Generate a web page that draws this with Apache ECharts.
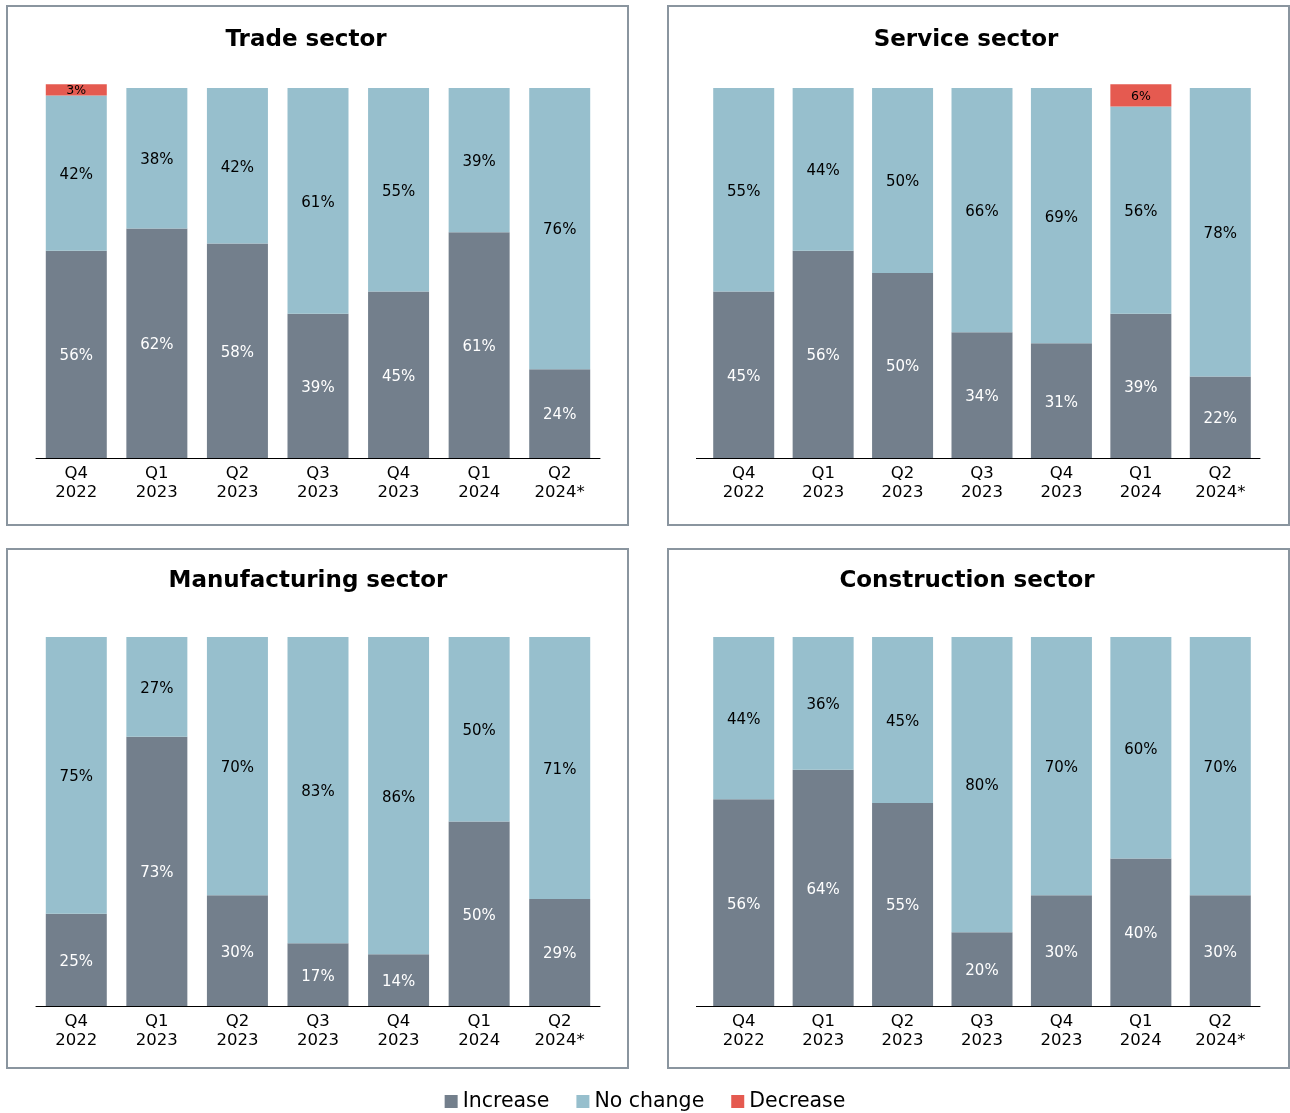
<!DOCTYPE html>
<html>
<head>
<meta charset="utf-8">
<script src="https://cdn.jsdelivr.net/npm/echarts@6/dist/echarts.min.js"></script>
<style>
  html, body { margin: 0; padding: 0; background: #fff; }
  #chart { width: 1290px; height: 1113px; }
</style>
</head>
<body>
<div id="chart"></div>
<script>
var quarters = ['Q4\n2022', 'Q1\n2023', 'Q2\n2023', 'Q3\n2023', 'Q4\n2023', 'Q1\n2024', 'Q2\n2024*'];

var sectorNames = ['Trade sector', 'Service sector', 'Manufacturing sector', 'Construction sector'];

// Trade sector
var tradeIncrease = [56, 62, 58, 39, 45, 61, 24];
var tradeNoChange = [42, 38, 42, 61, 55, 39, 76];
var tradeDecrease = [3, 0, 0, 0, 0, 0, 0];

// Service sector
var serviceIncrease = [45, 56, 50, 34, 31, 39, 22];
var serviceNoChange = [55, 44, 50, 66, 69, 56, 78];
var serviceDecrease = [0, 0, 0, 0, 0, 6, 0];

// Manufacturing sector
var manufIncrease = [25, 73, 30, 17, 14, 50, 29];
var manufNoChange = [75, 27, 70, 83, 86, 50, 71];
var manufDecrease = [0, 0, 0, 0, 0, 0, 0];

// Construction sector
var constrIncrease = [56, 64, 55, 20, 30, 40, 30];
var constrNoChange = [44, 36, 45, 80, 70, 60, 70];
var constrDecrease = [0, 0, 0, 0, 0, 0, 0];

var colors = { inc: '#737f8c', nc: '#97bfcd', dec: '#e55a50' };
var FONT = 'DejaVu Sans';

var panels = [
  { inc: tradeIncrease, nc: tradeNoChange, dec: tradeDecrease, grid: { left: 36, top: 88, width: 564, height: 370 }, box: [7, 6], titleX: 306, titleY: 29 },
  { inc: serviceIncrease, nc: serviceNoChange, dec: serviceDecrease, grid: { left: 704, top: 88, width: 556, height: 370 }, box: [668, 6], titleX: 966, titleY: 29 },
  { inc: manufIncrease, nc: manufNoChange, dec: manufDecrease, grid: { left: 36, top: 637, width: 564, height: 369 }, box: [7, 549], titleX: 308, titleY: 570 },
  { inc: constrIncrease, nc: constrNoChange, dec: constrDecrease, grid: { left: 704, top: 637, width: 556, height: 369 }, box: [668, 549], titleX: 967, titleY: 570 }
];

function pct(p) {
  return p.value ? p.value + '%' : '';
}

var grids = [], xAxes = [], yAxes = [], series = [], titles = [], graphics = [];

panels.forEach(function (pn, i) {
  grids.push(pn.grid);
  xAxes.push({
    type: 'category',
    gridIndex: i,
    data: quarters,
    axisTick: { show: false },
    axisLine: { lineStyle: { color: '#000', width: 1 } },
    axisLabel: { color: '#000', fontSize: 16.5, lineHeight: 19, margin: 6, fontFamily: FONT }
  });
  yAxes.push({
    type: 'value',
    gridIndex: i,
    min: 0,
    max: 100,
    show: false,
    splitLine: { show: false }
  });
  var stack = 's' + i;
  series.push({
    name: 'Increase', type: 'bar', stack: stack, xAxisIndex: i, yAxisIndex: i,
    data: pn.inc, barWidth: 61, clip: false,
    itemStyle: { color: colors.inc },
    label: { show: true, position: 'inside', offset: [0, 2], color: '#fff', fontSize: 15, fontFamily: FONT, formatter: pct }
  });
  series.push({
    name: 'No change', type: 'bar', stack: stack, xAxisIndex: i, yAxisIndex: i,
    data: pn.nc, barWidth: 61, clip: false,
    itemStyle: { color: colors.nc },
    label: { show: true, position: 'inside', offset: [0, 2], color: '#000', fontSize: 15, fontFamily: FONT, formatter: pct }
  });
  series.push({
    name: 'Decrease', type: 'bar', stack: stack, xAxisIndex: i, yAxisIndex: i,
    data: pn.dec, barWidth: 61, clip: false,
    itemStyle: { color: colors.dec },
    label: { show: true, position: 'inside', offset: [0, 1], color: '#000', fontSize: 12.5, fontFamily: FONT, formatter: pct }
  });
  titles.push({
    text: sectorNames[i],
    left: pn.titleX,
    top: pn.titleY,
    padding: 0,
    textAlign: 'center',
    textStyle: { fontSize: 23, fontWeight: 'bold', color: '#000', fontFamily: FONT }
  });
  graphics.push({
    type: 'rect',
    shape: { x: pn.box[0], y: pn.box[1], width: 621, height: 519 },
    style: { fill: 'none', stroke: '#8a959f', lineWidth: 2 },
    silent: true
  });
  // the axis line in the right-hand panels starts a little left of the first category
  if (pn.grid.left > 600) {
    var yLine = pn.grid.top + pn.grid.height + 0.5;
    graphics.push({
      type: 'line',
      shape: { x1: 696, y1: yLine, x2: pn.grid.left, y2: yLine },
      style: { stroke: '#000', lineWidth: 1 },
      silent: true
    });
  }
});

var option = {
  animation: false,
  title: titles,
  grid: grids,
  xAxis: xAxes,
  yAxis: yAxes,
  series: series,
  graphic: graphics,
  legend: {
    data: ['Increase', 'No change', 'Decrease'],
    top: 1091,
    left: 'center',
    padding: 0,
    icon: 'rect',
    itemWidth: 13,
    itemHeight: 13,
    itemGap: 27,
    textStyle: { fontSize: 20.5, color: '#000', fontFamily: FONT }
  }
};

var myChart = echarts.init(document.getElementById('chart'));
myChart.setOption(option);
</script>
</body>
</html>
